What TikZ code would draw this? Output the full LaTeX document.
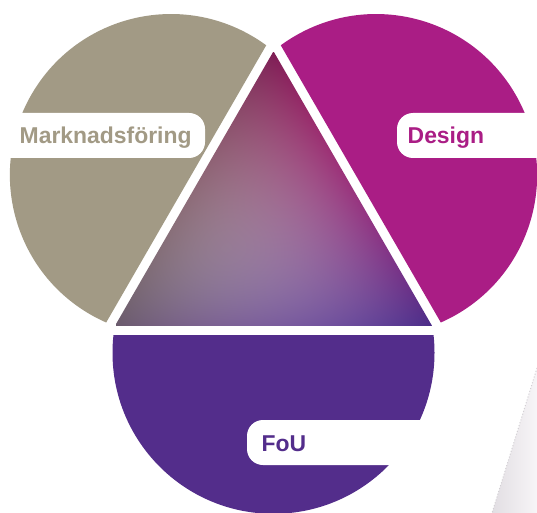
\documentclass[tikz,border=0pt]{standalone}
\usepackage{fontspec}
\setmainfont{Liberation Sans}
\definecolor{tan}{RGB}{162,154,133}
\definecolor{mag}{RGB}{170,29,133}
\definecolor{pur}{RGB}{83,45,139}
\definecolor{stripeL}{RGB}{226,222,227}
\definecolor{stripeR}{RGB}{247,245,247}
\pgfdeclarefunctionalshading{trishade}{\pgfpoint{0bp}{0bp}}{\pgfpoint{317bp}{274.5bp}}{}{
274.5 div exch 317 div 1 index 0.5 mul sub 1 index 1 index add 1 exch sub
2 index dup 2 mul 1 sub mul
2 index dup 2 mul 1 sub mul
2 index dup 2 mul 1 sub mul
5 index 5 index mul 4 mul
6 index 5 index mul 4 mul
6 index 6 index mul 4 mul
8 index 8 index mul 7 index mul 27 mul
10 7 roll pop pop pop
6 index 0.494 mul 6 index 0.290 mul add 5 index 0.416 mul add 4 index 0.600 mul add 3 index 0.557 mul add 2 index 0.478 mul add 1 index 0.015 mul add
7 index 0.114 mul 7 index 0.173 mul add 6 index 0.353 mul add 5 index 0.200 mul add 4 index 0.416 mul add 3 index 0.361 mul add 2 index 0.090 mul add
8 index 0.333 mul 8 index 0.533 mul add 7 index 0.424 mul add 6 index 0.490 mul add 5 index 0.471 mul add 4 index 0.612 mul add 3 index 0.045 mul add
10 3 roll pop pop pop pop pop pop pop
}
\tikzset{
  lbox/.style={fill=white, rounded corners=16bp},
  ltext/.style={font=\fontsize{23}{27}\selectfont\bfseries, inner sep=0pt, anchor=base west},
}
\begin{document}
\begin{tikzpicture}[x=1bp, y=-1bp]
\useasboundingbox (0,0) rectangle (537,513);
\fill[white] (0,0) rectangle (537,513);
\coordinate (G) at (273.5,234.3);
\coordinate (A) at (273.5,51.3);
\coordinate (B) at (115,325.8);
\coordinate (C) at (432,325.8);
% circle segments
\foreach \ang/\col in {0/pur, 120/mag, -120/tan}{
  \begin{scope}[shift={(G)}, rotate=\ang]
    \clip (-320,100.8) rectangle (320,420);
    \fill[\col] (0,118.5) circle (161);
  \end{scope}
}
% central triangle
\begin{scope}
  \clip (A) -- (B) -- (C) -- cycle;
  \node[inner sep=0pt, outer sep=0pt, anchor=south west] (tri) at (B) {\pgfuseshading{trishade}};
\end{scope}
% labels
\fill[lbox] (-30,113) rectangle (205,158);
\node[ltext, text=tan] (mk) at (19.5,144) {Marknadsföring};
\fill[lbox] (397,113) rectangle (580,158);
\node[ltext, text=mag] (de) at (407.5,144) {Design};
\fill[lbox] (247,420) rectangle (470,465);
\node[ltext, text=pur] (fou) at (261.5,451) {FoU};
% grey stripe bottom right
\shade[left color=stripeL, right color=stripeR] (537,368) -- (492,513) -- (537,513) -- cycle;
\draw[stripeL!85!gray, line width=1bp, dotted] (537,368) -- (492,513);
\end{tikzpicture}
\end{document}
